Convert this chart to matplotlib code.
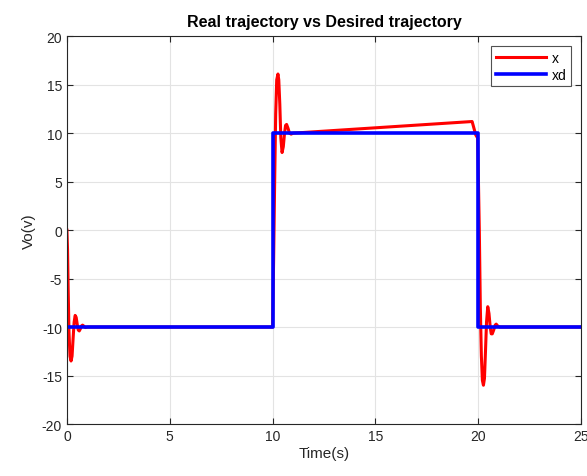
import numpy as np
import matplotlib.pyplot as plt

plt.rcParams['font.family'] = ['Liberation Sans', 'DejaVu Sans']
plt.rcParams['axes.unicode_minus'] = False

# real trajectory x(t), read at the turning points of each transient
t_real = [0, 0.03, 0.06, 0.1, 0.15, 0.2, 0.25, 0.3, 0.35, 0.4, 0.45, 0.5, 0.55,
          0.6, 0.65, 0.7, 0.76, 0.82, 0.9, 1.0,
          10.0, 10.05, 10.1, 10.15, 10.2, 10.26, 10.3, 10.35, 10.4, 10.46, 10.52,
          10.58, 10.63, 10.68, 10.75, 10.82, 10.9, 11.0,
          19.7, 19.88, 19.97, 20.05, 20.1, 20.15, 20.2, 20.25, 20.3, 20.35, 20.4,
          20.46, 20.52, 20.58, 20.63, 20.68, 20.75, 20.82, 20.87, 20.95, 21.05, 25]
x_real = [0, -2, -6, -10.5, -13, -13.5, -13, -11.2, -9.5, -8.8, -9, -9.7, -10.3,
          -10.4, -10.2, -9.9, -9.8, -9.9, -10.05, -10,
          -10, -3, 5, 12, 15.5, 16.1, 15.5, 13, 9.5, 8.0, 8.6,
          10, 10.8, 10.9, 10.5, 10.0, 9.9, 10.0,
          11.2, 9.8, 9.5, 0, -8, -13, -15.5, -16, -15.3, -12.5, -9.5,
          -7.9, -8.6, -10, -10.7, -10.7, -10.3, -9.8, -9.7, -9.9, -10, -10]

# desired trajectory xd(t)
t_des = [0, 10, 10, 20, 20, 25]
x_des = [-10, -10, 10, 10, -10, -10]

fig = plt.figure(figsize=(5.87, 4.77), dpi=100)
ax = fig.add_axes([0.114, 0.109, 0.876, 0.813])

ax.plot(t_real, x_real, color='red', lw=2.2, label='x')
ax.plot(t_des, x_des, color='blue', lw=2.6, label='xd')

ax.set_xlim(0, 25)
ax.set_ylim(-20, 20)
ax.set_xticks(np.arange(0, 26, 5))
ax.set_yticks(np.arange(-20, 21, 5))
ax.grid(True, color='#e3e3e3', lw=0.8)
ax.set_axisbelow(True)

for s in ax.spines.values():
    s.set_color('#262626')
    s.set_linewidth(0.8)
ax.tick_params(direction='in', length=4, color='#262626', labelsize=10,
               labelcolor='#262626', top=True, right=True)

ax.set_title('Real trajectory vs Desired trajectory', fontsize=11.5,
             fontweight='bold', pad=7)
ax.set_xlabel('Time(s)', fontsize=11, color='#262626', labelpad=2)
ax.set_ylabel('Vo(v)', fontsize=11, color='#262626', labelpad=4)

leg = ax.legend(loc='upper right', fontsize=10, fancybox=False,
                edgecolor='#262626', handlelength=3.6, handletextpad=0.4,
                borderpad=0.35, labelspacing=0.2, borderaxespad=0.7)
leg.get_frame().set_linewidth(0.8)

fig.savefig('out.png', dpi=100)
